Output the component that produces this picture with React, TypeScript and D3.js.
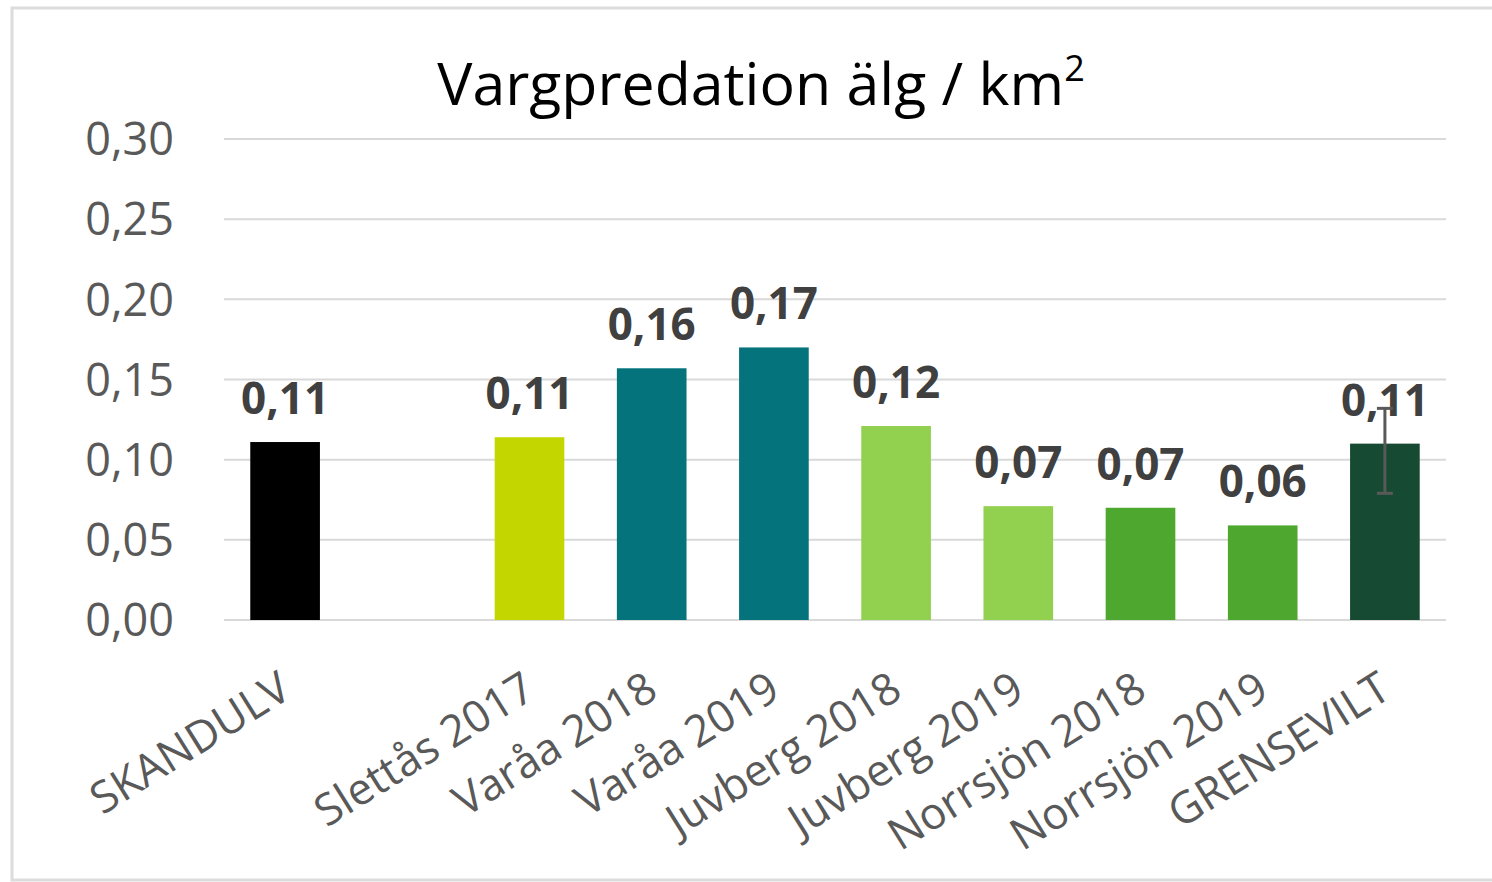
import React from 'react';
import * as d3 from 'd3';

// data
const categories = ['SKANDULV', '', 'Slettås 2017', 'Varåa 2018', 'Varåa 2019', 'Juvberg 2018', 'Juvberg 2019', 'Norrsjön 2018', 'Norrsjön 2019', 'GRENSEVILT'];
const values: (number | null)[] = [0.111, null, 0.114, 0.157, 0.170, 0.121, 0.071, 0.070, 0.059, 0.110];
const colors = ['#000000', '#ffffff', '#c4d600', '#04737b', '#04737b', '#92d050', '#92d050', '#4ea72e', '#4ea72e', '#174a32'];
const yTicks = [0, 0.05, 0.1, 0.15, 0.2, 0.25, 0.3];
// error bar only on GRENSEVILT
const errLow: (number | null)[] = [null, null, null, null, null, null, null, null, null, 0.079];
const errHigh: (number | null)[] = [null, null, null, null, null, null, null, null, null, 0.132];

const W = 1492;
const H = 882;
const font = "'Open Sans', sans-serif";
const fmt = (v: number) => v.toFixed(2).replace('.', ',');

const App = () => {
  const margin = { top: 139, right: 46, bottom: 262, left: 224 };
  const x = d3.scaleBand<number>()
    .domain(categories.map((_, i) => i))
    .range([margin.left, W - margin.right])
    .paddingInner(0.43)
    .paddingOuter(0.215);
  const y = d3.scaleLinear().domain([0, 0.3]).range([H - margin.bottom, margin.top]);

  return (
    <svg width={W} height={H} style={{ position: 'absolute', left: 0, top: 0, background: '#fff' }}>
      <rect x={12} y={8} width={W} height={872} fill="#fff" stroke="#dcdcdc" strokeWidth={3} />
      <text x={761} y={105} textAnchor="middle" fontFamily={font} fontSize={59} fill="#000">
        Vargpredation älg / km<tspan dy={-24} fontSize={36}>2</tspan>
      </text>
      {yTicks.map(t => (
        <g key={t}>
          <line x1={margin.left} x2={W - margin.right} y1={y(t)} y2={y(t)} stroke="#d9d9d9" strokeWidth={2} />
          <text x={174} y={y(t)} dy="0.36em" textAnchor="end" fontFamily={font} fontSize={45} fill="#595959">
            {fmt(t)}
          </text>
        </g>
      ))}
      {values.map((v, i) => v == null ? null : (
        <rect key={i} x={x(i)} y={y(v)} width={x.bandwidth()} height={y(0) - y(v)} fill={colors[i]} />
      ))}
      {values.map((v, i) => v == null ? null : (
        <text key={i} x={(x(i) as number) + x.bandwidth() / 2} y={y(v) - 28} textAnchor="middle"
          fontFamily={font} fontSize={44} fontWeight="bold" fill="#404040">
          {fmt(v)}
        </text>
      ))}
      {errLow.map((lo, i) => {
        const hi = errHigh[i];
        if (lo == null || hi == null) return null;
        const cx = (x(i) as number) + x.bandwidth() / 2;
        return (
          <g key={i} stroke="#595959" strokeWidth={3}>
            <line x1={cx} x2={cx} y1={y(hi)} y2={y(lo)} />
            <line x1={cx - 8} x2={cx + 8} y1={y(hi)} y2={y(hi)} />
            <line x1={cx - 8} x2={cx + 8} y1={y(lo)} y2={y(lo)} />
          </g>
        );
      })}
      {categories.map((c, i) => (
        <text key={i} transform={`translate(${(x(i) as number) + x.bandwidth() / 2 - 8},${y(0) + 50}) rotate(-32)`}
          textAnchor="end" dy="0.7em" fontFamily={font} fontSize={44} fill="#595959">
          {c}
        </text>
      ))}
    </svg>
  );
};

export default App;
